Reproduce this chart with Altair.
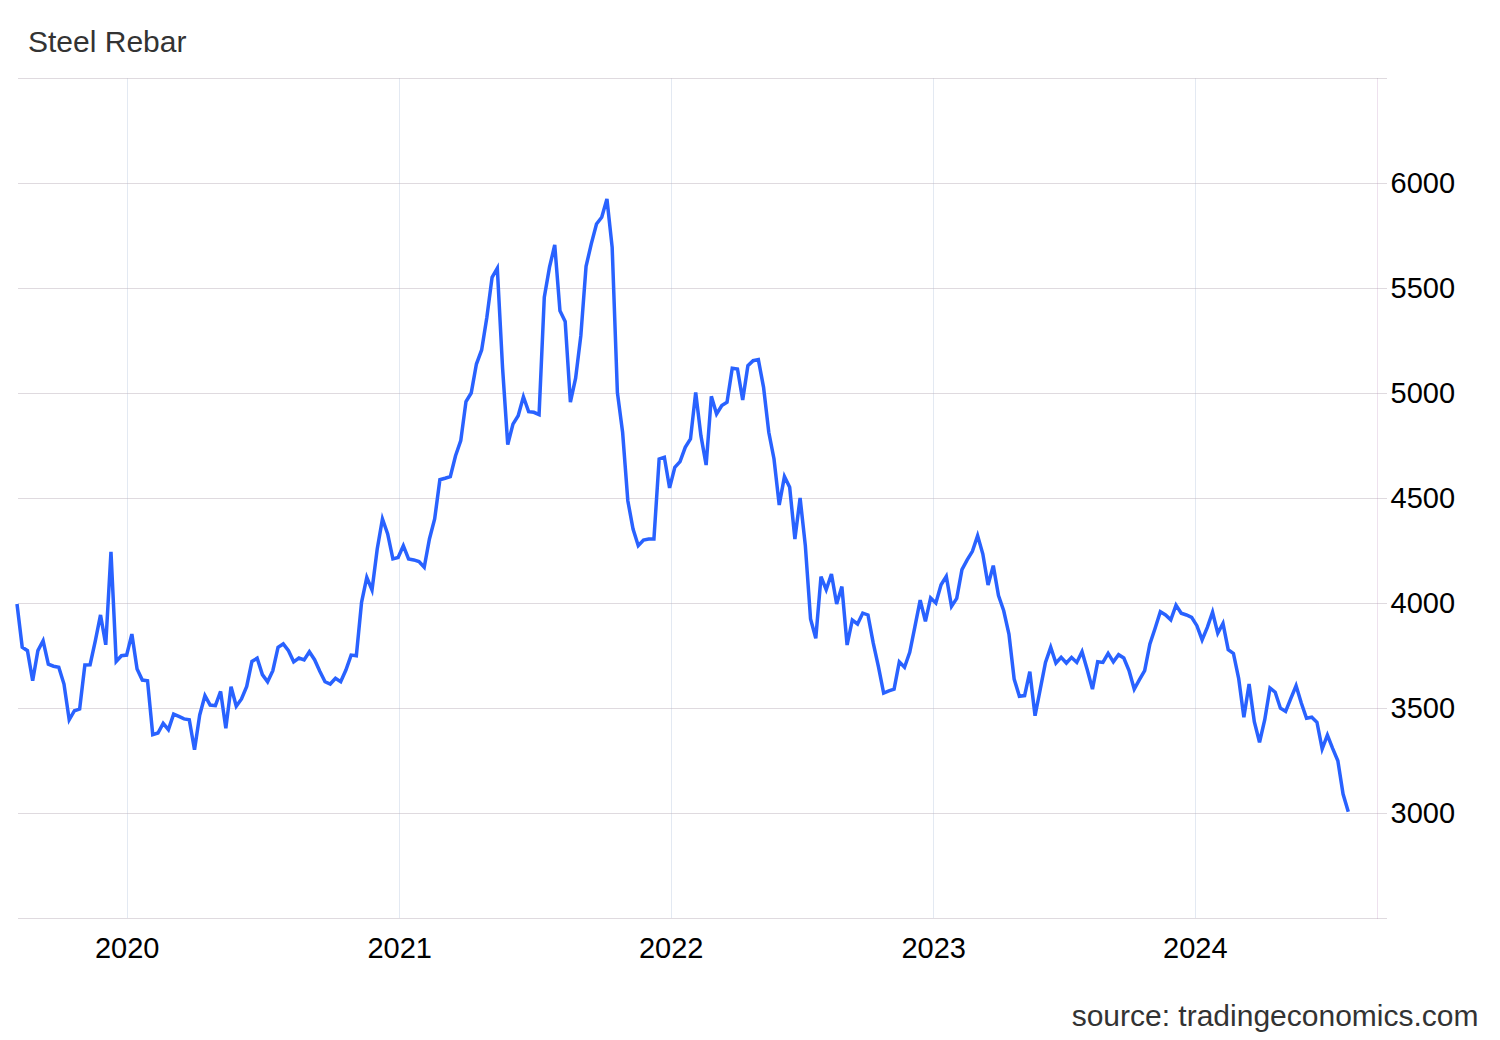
import altair as alt
import pandas as pd

title_text = "Steel Rebar"
source_text = "source: tradingeconomics.com"

seg_a = [3995, 3789, 3773, 3630, 3773, 3820, 3709, 3699, 3694, 3614,
         3444, 3487, 3495, 3705, 3706, 3820, 3943, 3801, 4244, 3722,
         3749, 3752, 3852, 3686, 3633, 3630, 3373, 3381, 3427, 3397,
         3471, 3460, 3448, 3444, 3301, 3467, 3559, 3514, 3511, 3579,
         3403, 3601, 3508, 3543, 3603, 3722, 3737, 3659, 3625, 3678,
         3789, 3805, 3773, 3720, 3738, 3729, 3768, 3730, 3675, 3625,
         3614, 3641, 3625, 3681, 3752, 3749, 4003, 4122, 4062]
seg_b = [4257, 4400, 4329, 4210, 4217, 4273, 4210, 4205, 4197, 4170,
         4305, 4400, 4587, 4594, 4602, 4701, 4773, 4959, 5000, 5138,
         5205, 5361, 5551, 5594, 5122, 4754, 4852, 4892, 4982, 4911,
         4908, 4897, 5456, 5599, 5705, 5392, 5341, 4956, 5071, 5273,
         5603, 5710, 5805, 5837, 5924, 5694, 5003, 4813, 4487, 4352,
         4273, 4300, 4305, 4305, 4686, 4694, 4548, 4646, 4673]
seg_c = [4741, 4781, 5003, 4797, 4657, 4984, 4900, 4940, 4956, 5118,
         5114, 4967, 5130, 5154, 5159, 5027, 4813, 4686, 4467, 4602,
         4551, 4305, 4500, 4273, 3924, 3832, 4125, 4063, 4138, 3995,
         4078, 3800, 3919, 3900, 3952, 3943, 3810, 3697, 3571, 3582,
         3590, 3720, 3694, 3765, 3889, 4014, 3913, 4024, 4000, 4087,
         4127, 3984, 4022, 4159, 4205, 4246, 4321, 4233, 4086, 4178,
         4035, 3963, 3852, 3638, 3556, 3559, 3673, 3463, 3590, 3717,
         3789]
seg_d = [3714, 3741, 3714, 3741, 3717, 3768, 3682, 3590, 3720, 3717,
         3760, 3720, 3754, 3738, 3678, 3590, 3635, 3678, 3805, 3880,
         3959, 3943, 3920, 3990, 3951, 3943, 3932, 3892, 3824, 3884,
         3956, 3856, 3903, 3778, 3760, 3641, 3456, 3614, 3435, 3337,
         3444, 3595, 3575, 3499, 3484, 3546, 3606, 3524, 3451, 3456,
         3432, 3305, 3371, 3308, 3249, 3090, 3006]

values = seg_a + seg_b + seg_c + seg_d

# ordinal (observation-index) axis: year starts fall between observations
year_labels = ["2020", "2021", "2022", "2023", "2024"]
year_positions = [21.0, 73.2, 125.2, 175.5, 225.6]
x_extent = [0, 260.5]

y_ticks = [2500, 3000, 3500, 4000, 4500, 5000, 5500, 6000, 6500]
y_extent = [2500, 6500]

df = pd.DataFrame({"obs": list(range(len(values))), "price": values})

x_label_expr = ("[" + ",".join("'" + s + "'" for s in year_labels) + "]"
                "[indexof([" + ",".join(str(p) for p in year_positions) + "], datum.value)]")
y_label_expr = "(datum.value <= 2500 || datum.value >= 6500) ? '' : format(datum.value, 'd')"

FONT = "Liberation Sans"
H_GRID = "#bfb4bf"
V_GRID = "#c6d3e4"

chart = alt.Chart(df).mark_line(color="#2962ff", strokeWidth=3.5).encode(
    x=alt.X(
        "obs:Q",
        scale=alt.Scale(domain=x_extent, nice=False, zero=False),
        axis=alt.Axis(
            values=year_positions,
            labelExpr=x_label_expr,
            grid=True,
            gridColor=V_GRID,
            gridDash=[1, 1],
            gridWidth=1,
            ticks=False,
            domain=False,
            labelFont=FONT,
            labelFontSize=29,
            labelColor="#000000",
            labelPadding=16,
            labelFlush=False,
            title=source_text,
            titleFont=FONT,
            titleFontSize=30,
            titleFontWeight="normal",
            titleColor="#333333",
            titleX=1461,
            titleY=107,
            titleAlign="right",
            titleBaseline="alphabetic",
            titleAngle=0,
        ),
    ),
    y=alt.Y(
        "price:Q",
        scale=alt.Scale(domain=y_extent, nice=False, zero=False),
        axis=alt.Axis(
            orient="right",
            values=y_ticks,
            labelExpr=y_label_expr,
            grid=True,
            gridColor=H_GRID,
            gridDash=[1, 1],
            gridWidth=1,
            ticks=True,
            tickSize=9,
            tickColor=H_GRID,
            tickDash=[1, 1],
            domain=True,
            domainColor="#dcc2dc",
            domainDash=[1, 1],
            labelFont=FONT,
            labelFontSize=29,
            labelColor="#000000",
            labelPadding=4,
            labelFlush=False,
            title=None,
        ),
    ),
).properties(
    width=1360,
    height=840,
    autosize=alt.AutoSizeParams(type="none"),
    padding={"left": 9, "top": 70, "right": 115, "bottom": 114},
    title=alt.TitleParams(
        text=title_text,
        anchor="start",
        frame="group",
        dx=11,
        dy=32,
        offset=28,
        baseline="alphabetic",
        font=FONT,
        fontSize=30,
        fontWeight="normal",
        color="#333333",
    ),
).configure_view(stroke=None)

chart.save("out.html", embed_options={"renderer": "svg", "actions": False})
